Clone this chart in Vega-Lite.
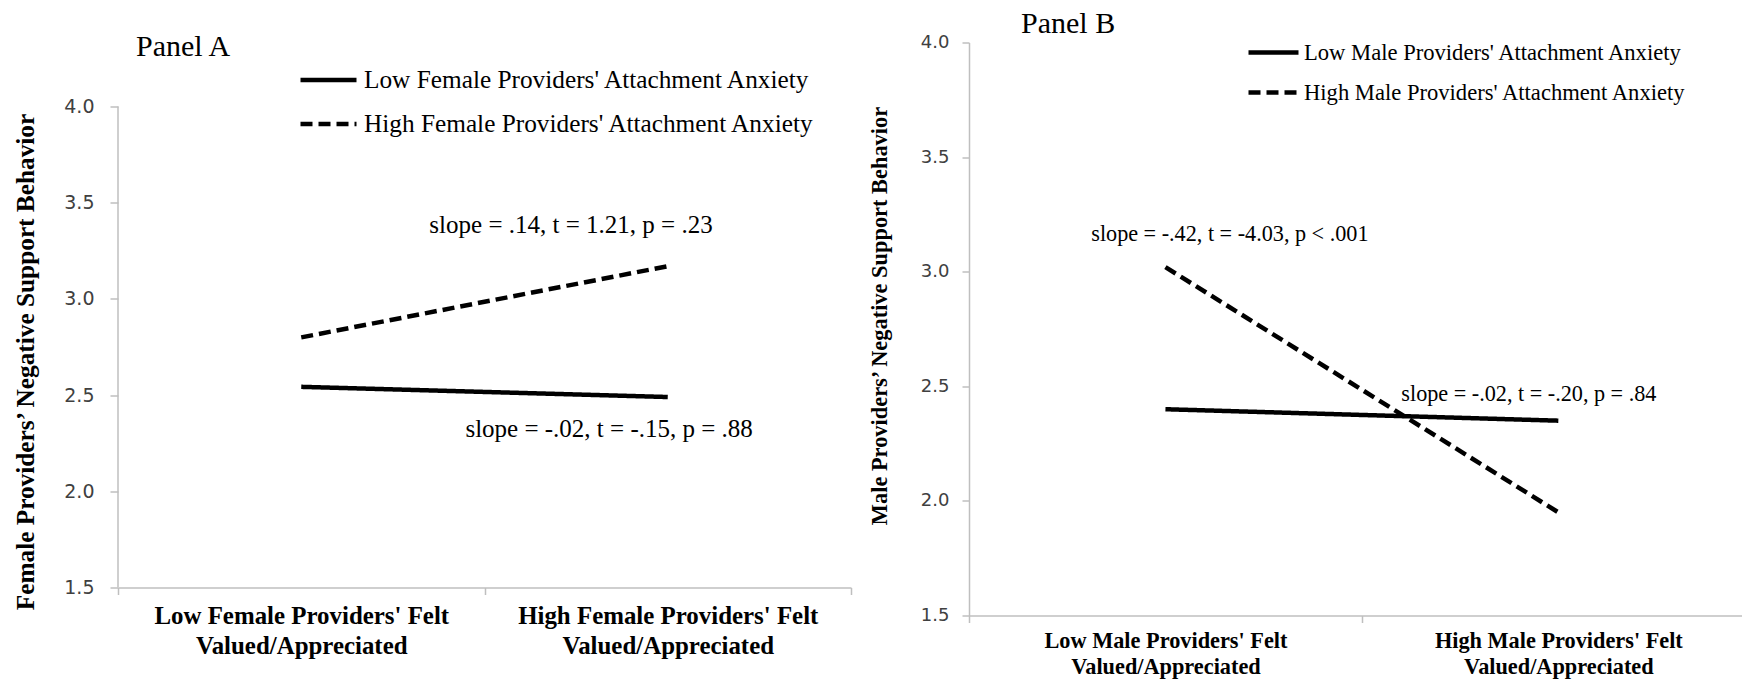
{
  "$schema": "https://vega.github.io/schema/vega-lite/v6.json",
  "background": "white",
  "padding": {"left": 13, "top": 8.5, "right": 0, "bottom": 0},
  "bounds": "flush",
  "spacing": 118,
  "config": {"view": {"stroke": null}, "axis": {"grid": false}},
  "datasets": {
    "linesA": [
      {"felt": "Low", "x": 0.5, "anxiety": "Low Female Providers' Attachment Anxiety", "support": 2.543},
      {"felt": "High", "x": 1.5, "anxiety": "Low Female Providers' Attachment Anxiety", "support": 2.49},
      {"felt": "Low", "x": 0.5, "anxiety": "High Female Providers' Attachment Anxiety", "support": 2.80},
      {"felt": "High", "x": 1.5, "anxiety": "High Female Providers' Attachment Anxiety", "support": 3.17}
    ],
    "linesB": [
      {"felt": "Low", "x": 0.5, "anxiety": "Low Male Providers' Attachment Anxiety", "support": 2.40},
      {"felt": "High", "x": 1.5, "anxiety": "Low Male Providers' Attachment Anxiety", "support": 2.35},
      {"felt": "Low", "x": 0.5, "anxiety": "High Male Providers' Attachment Anxiety", "support": 3.02},
      {"felt": "High", "x": 1.5, "anxiety": "High Male Providers' Attachment Anxiety", "support": 1.95}
    ],
    "notesA": [
      {"x": 1.236, "y": 3.340, "note": "slope = .14, t = 1.21, p = .23"},
      {"x": 1.340, "y": 2.280, "note": "slope = -.02, t = -.15, p = .88"}
    ],
    "notesB": [
      {"x": 0.664, "y": 3.132, "note": "slope = -.42, t = -4.03, p < .001"},
      {"x": 1.425, "y": 2.438, "note": "slope = -.02, t = -.20, p = .84"}
    ]
  },
  "resolve": {"scale": {"strokeDash": "independent", "x": "independent", "y": "independent"}, "legend": {"strokeDash": "independent"}},
  "hconcat": [
    {
      "width": 733,
      "height": 545,
      "title": {"text": "Panel A", "anchor": "start", "frame": "group", "font": "Liberation Serif", "fontSize": 30, "fontWeight": "normal", "color": "black", "dx": 18, "offset": -19},
      "layer": [
        {
          "data": {"values": [{}]},
          "mark": {"type": "rule", "color": "#bfbfbf", "strokeWidth": 1.5},
          "encoding": {
            "x": {"datum": 0, "type": "quantitative"},
            "y": {"datum": 1.5, "type": "quantitative"},
            "y2": {"datum": 4}
          }
        },
        {
          "data": {"name": "linesA"},
          "mark": {"type": "line", "color": "black", "strokeWidth": 4.5},
          "encoding": {
            "x": {
              "field": "x", "type": "quantitative",
              "scale": {"domain": [0, 2], "nice": false, "zero": false},
              "axis": {
                "title": null, "values": [0, 0.5, 1, 1.5, 2],
                "domainColor": "#bfbfbf", "domainWidth": 1.5,
                "tickColor": "#bfbfbf", "tickWidth": 1.5, "tickSize": 7,
                "tickOpacity": {"condition": {"test": "datum.value % 1 !== 0", "value": 0}, "value": 1},
                "labelExpr": "datum.value === 0.5 ? [\"Low Female Providers' Felt\", \"Valued/Appreciated\"] : datum.value === 1.5 ? [\"High Female Providers' Felt\", \"Valued/Appreciated\"] : ''",
                "labelFont": "Liberation Serif", "labelFontWeight": "bold", "labelFontSize": 24.9, "labelColor": "black",
                "labelLineHeight": 30, "labelPadding": 9, "labelBaseline": "top",
                "labelOverlap": false, "labelFlush": false, "labelBound": false, "labelLimit": 600
              }
            },
            "y": {
              "field": "support", "type": "quantitative",
              "scale": {"domain": [1.5, 4.3326], "nice": false, "zero": false},
              "axis": {
                "title": "Female Providers’ Negative Support Behavior",
                "values": [1.5, 2, 2.5, 3, 3.5, 4], "format": ".1f",
                "domain": false, "tickColor": "#bfbfbf", "tickWidth": 1.5, "tickSize": 8,
                "labelFont": "DejaVu Sans", "labelFontSize": 19, "labelColor": "#404040", "labelPadding": 16,
                "titleFont": "Liberation Serif", "titleFontSize": 25.3, "titleFontWeight": "bold", "titleColor": "black",
                "titleX": -93, "titleY": 319, "titleBaseline": "middle", "titleAngle": -90
              }
            },
            "strokeDash": {
              "field": "anxiety", "type": "nominal",
              "scale": {"domain": ["Low Female Providers' Attachment Anxiety", "High Female Providers' Attachment Anxiety"], "range": [[1, 0], [12, 6]]},
              "legend": {
                "orient": "none", "legendX": 180, "legendY": 7, "title": null,
                "symbolType": "stroke", "symbolSize": 3136, "symbolStrokeWidth": 4.5, "symbolStrokeColor": "black",
                "labelFont": "Liberation Serif", "labelFontSize": 25.3, "labelColor": "black", "labelLimit": 600,
                "labelOffset": 5, "rowPadding": -16, "padding": 0
              }
            }
          }
        },
        {
          "data": {"name": "notesA"},
          "mark": {"type": "text", "font": "Liberation Serif", "fontSize": 25, "align": "center", "baseline": "alphabetic", "color": "black"},
          "encoding": {
            "x": {"field": "x", "type": "quantitative"},
            "y": {"field": "y", "type": "quantitative"},
            "text": {"field": "note"}
          }
        }
      ]
    },
    {
      "width": 774,
      "height": 573,
      "title": {"text": "Panel B", "anchor": "start", "frame": "group", "font": "Liberation Serif", "fontSize": 30, "fontWeight": "normal", "color": "black", "dx": 52, "offset": -14},
      "layer": [
        {
          "data": {"name": "linesB"},
          "mark": {"type": "line", "color": "black", "strokeWidth": 4.5},
          "encoding": {
            "x": {
              "field": "x", "type": "quantitative",
              "scale": {"domain": [0, 1.97], "nice": false, "zero": false},
              "axis": {
                "title": null, "values": [0, 0.5, 1, 1.5],
                "domainColor": "#bfbfbf", "domainWidth": 1.5,
                "tickColor": "#bfbfbf", "tickWidth": 1.5, "tickSize": 7,
                "tickOpacity": {"condition": {"test": "datum.value % 1 !== 0", "value": 0}, "value": 1},
                "labelExpr": "datum.value === 0.5 ? [\"Low Male Providers' Felt\", \"Valued/Appreciated\"] : datum.value === 1.5 ? [\"High Male Providers' Felt\", \"Valued/Appreciated\"] : ''",
                "labelFont": "Liberation Serif", "labelFontWeight": "bold", "labelFontSize": 22.3, "labelColor": "black",
                "labelLineHeight": 26, "labelPadding": 7, "labelBaseline": "top",
                "labelOverlap": false, "labelFlush": false, "labelBound": false, "labelLimit": 600
              }
            },
            "y": {
              "field": "support", "type": "quantitative",
              "scale": {"domain": [1.5, 4], "nice": false, "zero": false},
              "axis": {
                "title": "Male Providers’ Negative Support Behavior",
                "values": [1.5, 2, 2.5, 3, 3.5, 4], "format": ".1f",
                "domainColor": "#bfbfbf", "domainWidth": 1.5,
                "tickColor": "#bfbfbf", "tickWidth": 1.5, "tickSize": 7,
                "labelFont": "DejaVu Sans", "labelFontSize": 18, "labelColor": "#404040", "labelPadding": 13,
                "titleFont": "Liberation Serif", "titleFontSize": 22.4, "titleFontWeight": "bold", "titleColor": "black",
                "titleX": -90, "titleY": 273, "titleBaseline": "middle", "titleAngle": -90
              }
            },
            "strokeDash": {
              "field": "anxiety", "type": "nominal",
              "scale": {"domain": ["Low Male Providers' Attachment Anxiety", "High Male Providers' Attachment Anxiety"], "range": [[1, 0], [12, 6]]},
              "legend": {
                "orient": "none", "legendX": 277, "legendY": -17.5, "title": null,
                "symbolType": "stroke", "symbolSize": 2500, "symbolStrokeWidth": 4.5, "symbolStrokeColor": "black",
                "labelFont": "Liberation Serif", "labelFontSize": 22.6, "labelColor": "black", "labelLimit": 600,
                "labelOffset": 3, "rowPadding": -23, "padding": 0
              }
            }
          }
        },
        {
          "data": {"name": "notesB"},
          "mark": {"type": "text", "font": "Liberation Serif", "fontSize": 22.2, "align": "center", "baseline": "alphabetic", "color": "black"},
          "encoding": {
            "x": {"field": "x", "type": "quantitative"},
            "y": {"field": "y", "type": "quantitative"},
            "text": {"field": "note"}
          }
        }
      ]
    }
  ]
}
